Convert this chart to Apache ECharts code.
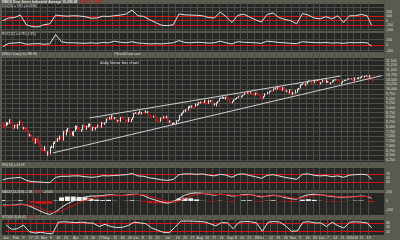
<!DOCTYPE html>
<html><head><meta charset="utf-8">
<script src="https://cdn.jsdelivr.net/npm/echarts@6.0.0/dist/echarts.min.js"></script>
<style>html,body{margin:0;padding:0;background:#5b5a4f;}#c{width:400px;height:240px;}</style>
</head><body><div id="c"></div>
<script>
// ---- daily bars ($INDU, 22 Jan 2009 .. 21 Jan 2010) ----
const highs = [
8250,8200,8250,8250,8400,8370,8250,
8010,8110,8180,8150,8320,8330,8270,8000,7940,7960,7840,7640,7600,7480,7420,7380,7440,7470,7200,
7060,6880,7000,6870,6710,6710,6930,7020,7170,7240,7390,7400,7540,7530,7470,7780,7770,7860,7940,7900,7760,7750,
7780,8080,8030,8020,7970,7880,8090,8100,8060,8050,8170,8180,8130,7990,8080,7980,8110,8080,8050,8260,8300,
8230,8430,8440,8530,8580,8610,8570,8520,8460,8380,8360,8510,8540,8580,8420,8340,8490,8480,8420,8510,
8740,8770,8740,8760,8860,8780,8820,8830,8880,8810,8790,8640,8560,8590,8600,8540,8380,8420,8490,8480,8560,8560,
8600,8500,8330,8330,8210,8240,8220,8340,8370,8620,8720,8760,8860,8920,8930,9090,9100,9120,9110,9090,9250,9230,
9300,9330,9330,9350,9440,9380,9340,9430,9420,9400,9320,9240,9290,9360,9510,9560,9620,9570,9580,9630,9540,
9540,9330,9350,9450,9510,9560,9630,9650,9630,9690,9800,9830,9830,9800,9860,9910,9780,9730,9800,9830,9790,
9710,9530,9620,9770,9740,9860,9870,9920,9880,10020,10070,10060,10100,10120,10120,10100,10110,10080,9940,9880,9970,9960,
9860,9790,9950,10010,10050,10230,10260,10310,10300,10290,10430,10440,10440,10420,10340,10500,10460,10480,10460,10360,
10500,10510,10520,10520,10420,10390,10350,10460,10500,10520,10510,10520,10440,10340,10440,10480,10490,10520,10580,10580,10560,10550,
10600,10590,10600,10620,10630,10680,10660,10690,10720,10710,10730,10720,10610];
const lows = [
7950,7910,8030,8100,8180,8120,7950,
7850,7910,7980,7880,8080,8180,7840,7870,7700,7830,7530,7490,7440,7250,7100,7110,7150,7170,7030,
6750,6700,6730,6580,6470,6520,6550,6890,6860,7100,7200,7200,7300,7370,7250,7280,7640,7550,7750,7740,7470,7540,
7500,7770,7870,7850,7770,7740,7840,7950,7880,7840,7970,8010,7830,7780,7860,7820,7950,7970,7900,7960,8140,
8110,8210,8350,8390,8350,8400,8380,8400,8270,8270,8230,8270,8430,8390,8220,8250,8260,8290,8260,8380,
8500,8690,8620,8650,8710,8660,8720,8660,8740,8730,8600,8500,8440,8490,8520,8320,8290,8290,8270,8400,8440,8400,
8450,8270,8210,8150,8090,8150,8090,8130,8280,8360,8580,8660,8740,8790,8820,8870,8990,9010,8990,8990,9070,9120,
9170,9240,9200,9210,9260,9290,9200,9220,9320,9250,9120,9130,9080,9250,9350,9490,9500,9480,9440,9500,9450,
9290,9250,9250,9330,9440,9460,9530,9580,9550,9590,9680,9750,9760,9720,9770,9740,9670,9640,9670,9730,9640,
9500,9430,9490,9600,9690,9730,9770,9860,9820,9890,9970,9940,9980,9990,9930,9910,9920,9840,9830,9740,9770,9700,
9680,9680,9770,9800,9940,10030,10190,10230,10180,10180,10270,10360,10380,10260,10270,10320,10380,10430,10230,10240,
10350,10430,10360,10320,10350,10240,10240,10340,10410,10460,10420,10430,10290,10240,10330,10410,10440,10470,10520,10540,10520,10420,
10430,10540,10540,10520,10550,10600,10570,10600,10660,10560,10600,10510,10380];
const closes = [
8123,8077,8116,8175,8375,8149,8001,
7936,8078,8000,8107,8281,8270,7888,7939,7932,7850,7552,7555,7466,7366,7114,7351,7270,7183,7063,
6763,6726,6876,6595,6627,6547,6926,6930,7170,7224,7217,7395,7486,7400,7278,7776,7660,7749,7924,7776,7522,7609,
7761,7978,8018,7975,7789,7837,8083,8057,7920,8029,8125,8131,7842,7969,7886,7957,8076,8025,7945,8185,8168,
8212,8426,8410,8512,8409,8575,8419,8469,8284,8331,8268,8504,8474,8422,8293,8277,8473,8300,8403,8500,
8721,8740,8675,8750,8763,8764,8763,8740,8770,8799,8612,8504,8497,8555,8539,8339,8323,8299,8472,8438,8529,8447,
8504,8280,8324,8163,8178,8183,8146,8332,8359,8616,8711,8743,8848,8916,8881,9069,9093,9108,9096,9070,9154,9171,
9286,9320,9280,9256,9370,9337,9241,9362,9398,9321,9135,9217,9279,9350,9505,9509,9539,9543,9580,9544,9496,
9310,9280,9344,9441,9497,9547,9627,9605,9626,9683,9792,9783,9820,9778,9829,9748,9707,9665,9789,9742,9712,
9509,9487,9599,9731,9725,9786,9865,9885,9871,10015,10062,9995,10092,10041,9949,10081,9972,9867,9882,9762,9962,9712,
9789,9771,9802,10005,10023,10226,10247,10291,10197,10270,10406,10437,10426,10332,10318,10450,10433,10464,10309,10345,
10471,10453,10366,10390,10390,10286,10337,10405,10471,10501,10452,10441,10309,10328,10414,10464,10467,10520,10547,10545,10548,10428,
10583,10572,10574,10607,10618,10664,10627,10681,10710,10610,10725,10603,10390];
const prevCloseBeforeFirst = 8228;

// ---- x axis (trading-day index) ----
const xLabels = [[0,'Jan'],[7,'Feb'],[12,'9'],[17,'17'],[21,'23'],[26,'Mar'],[31,'9'],[36,'16'],[41,'23'],
 [48,'Apr'],[55,'13'],[60,'20'],[65,'27'],[69,'May'],[75,'11'],[80,'18'],[85,'26'],[89,'Jun'],[94,'8'],[99,'15'],
 [104,'22'],[111,'Jul'],[118,'13'],[123,'20'],[128,'27'],[133,'Aug'],[138,'10'],[143,'17'],[148,'24'],[154,'Sep'],
 [158,'8'],[162,'14'],[167,'21'],[172,'28'],[175,'Oct'],[182,'12'],[187,'19'],[192,'26'],[197,'Nov'],[202,'9'],
 [207,'16'],[212,'23'],[217,'Dec'],[221,'7'],[226,'14'],[231,'21'],[235,'28'],[239,'2010'],[244,'11'],[249,'19']];
const weekStarts = [2,7,12,17,21,26,31,36,41,46,51,55,60,65,70,75,80,85,89,94,99,104,109,113,118,123,128,133,138,
 143,148,153,158,162,167,172,177,182,187,192,197,202,207,212,216,221,226,231,235,239,244,249];

// ---- indicator readings, one every 4 trading days ----
const sampleIdx = [0,4,8,12,16,20,24,28,32,36,40,44,48,52,56,60,64,68,72,76,80,84,88,92,96,100,104,108,112,116,120,
 124,128,132,136,140,144,148,152,156,160,164,168,172,176,180,184,188,192,196,200,204,208,212,216,220,224,228,232,236,
 240,244,248,251];
const cci = [0,60,70,125,-90,-130,-140,-90,-70,125,110,100,110,105,90,55,60,100,95,110,125,150,235,110,95,20,-40,-100,
 -110,-90,150,130,125,120,110,70,60,190,90,-40,120,145,80,20,-30,140,170,70,30,0,-70,160,125,60,40,90,40,110,-40,110,
 110,140,110,-95];
const roc = [-30,30,35,45,15,20,25,15,20,190,60,40,40,35,30,40,30,45,40,70,50,40,60,35,30,20,25,20,30,40,80,45,40,50,
 45,35,40,70,40,20,60,50,45,40,30,70,60,45,40,30,25,60,50,45,40,45,35,40,30,45,40,45,40,-20];
const rsi = [42,50,52,55,40,33,32,30,28,55,60,60,62,62,58,55,57,63,62,64,66,68,74,62,60,52,48,42,40,44,68,72,72,70,72,
 66,62,70,66,55,70,72,64,58,50,65,68,62,55,50,45,70,72,65,62,64,58,62,55,66,68,70,68,45];
const macd = [-90,-95,-90,-70,-85,-140,-200,-260,-300,-240,-140,-60,0,50,90,110,110,120,140,130,120,130,150,150,120,60,
 20,-20,-50,-20,60,130,170,180,170,150,130,150,140,110,120,140,150,120,90,110,130,110,80,50,40,100,140,150,140,120,100,
 90,80,90,100,110,100,60];
const signal = [-110,-100,-95,-85,-85,-100,-140,-190,-240,-250,-220,-160,-100,-40,10,50,80,100,115,125,125,125,135,145,
 140,110,70,30,-10,-25,5,60,110,145,165,160,145,145,145,130,120,125,135,130,110,105,115,115,100,75,55,70,100,125,135,
 130,115,100,90,88,92,100,102,85];
const hist = [20,5,5,15,0,-40,-60,-70,-60,10,80,100,100,90,80,60,30,20,25,5,-5,5,15,5,-20,-50,-50,-50,-40,5,55,70,60,
 35,5,-10,-15,5,-5,-20,0,15,15,-10,-20,5,15,-5,-20,-25,-15,30,40,25,5,-10,-15,-10,-10,2,8,10,-2,-25];
const stoK = [67,35,40,65,20,10,15,8,5,85,88,85,82,85,80,78,55,70,55,48,50,62,85,80,75,45,30,15,12,50,92,93,92,90,88,
 75,60,82,80,40,85,90,88,80,22,85,90,85,60,22,25,85,88,80,80,55,85,60,45,85,88,85,80,45];

// ---- hand-drawn trendlines: [trading-day index, price] ----
const trendUpper = [[59, 8471], [230, 10691]];
const trendLower = [[34, 6622], [258, 10707]];

const NCAT = 260;
const RED = '#d41414', WHITE = '#e2e2e2', GRID = '#4c4c48', PANEL = '#262624', LBL = '#dcdcdc';
const FONT = '"Liberation Sans"';
const cats = Array.from({length: NCAT}, (_, i) => String(i));
const labelMap = {}; xLabels.forEach(([i, t]) => labelMap[i] = t);
const weekSet = new Set(weekStarts);

const L = 2, R = 16;
const panels = [[4,31],[33,52],[58,162],[168,190],[193,215],[220,235]];
const grids = [
  {top: 2.7, height: 31.5},
  {top: 34, height: 22},
  {top: 55.97, height: 108.73},
  {top: 168.3, height: 20},
  {top: 183, height: 36},
  {top: 220, height: 15}
].map(g => Object.assign({left: L, right: R}, g));

function xAxis(gi, showLabels) {
  return {
    type: 'category', gridIndex: gi, data: cats, boundaryGap: true,
    axisLine: {show: false}, axisTick: {show: false},
    axisLabel: showLabels ? {
      show: true, interval: (i) => labelMap[i] !== undefined, hideOverlap: false,
      formatter: (v) => labelMap[Number(v)] || '', color: LBL, fontSize: 3.6,
      fontFamily: FONT, margin: 1.5
    } : {show: false},
    splitLine: {show: true, interval: (i) => weekSet.has(i), lineStyle: {color: GRID, width: 1}}
  };
}
function yAxis(gi, min, max, interval, fmt, split) {
  return {
    type: 'value', gridIndex: gi, position: 'right', min, max, interval, scale: true,
    axisLine: {show: false}, axisTick: {show: false},
    axisLabel: {show: true, showMinLabel: false, showMaxLabel: false, color: LBL, fontSize: 3.6,
      fontFamily: FONT, margin: 2, formatter: fmt},
    splitLine: {show: split, showMinLine: false, showMaxLine: false, lineStyle: {color: GRID, width: 1}}
  };
}
const fmtNum = v => v.toLocaleString('en-US');
const fmtIn = (lo, hi) => v => (v >= lo && v <= hi) ? String(v) : '';

const barsData = closes.map((c, i) => {
  const prev = i === 0 ? prevCloseBeforeFirst : closes[i - 1];
  return [i, highs[i], lows[i], c, c < prev ? 1 : 0];
});
const samp = arr => sampleIdx.map((ix, k) => [ix, arr[k]]);
const redLines = vals => ({silent: true, symbol: 'none', label: {show: false},
  lineStyle: {color: RED, width: 1, type: 'solid'}, data: vals.map(v => ({yAxis: v}))});
const lineS = (gi, data, color, extra) => Object.assign({
  type: 'line', xAxisIndex: gi, yAxisIndex: gi, data, showSymbol: false, symbol: 'none',
  lineStyle: {color, width: 1}, animation: false, z: 5
}, extra || {});

function rich(x, y, parts, size, weight) {
  return {type: 'text', left: x, top: y, z: 100, silent: true, style: {
    text: parts.map((p, k) => '{s' + k + '|' + p[0] + '}').join(' '),
    font: (weight || '') + ' ' + size + 'px ' + FONT,
    rich: Object.fromEntries(parts.map((p, k) => ['s' + k, {fill: p[1], fontSize: size, fontWeight: weight || 'normal', fontFamily: 'Liberation Sans'}]))
  }};
}

const option = {
  backgroundColor: '#5b5a4f',
  animation: false,
  graphic: {elements: [
    ...panels.map(([t, b]) => ({type: 'rect', left: L, top: t, z: -10, silent: true,
      shape: {width: 400 - L - R, height: b - t}, style: {fill: PANEL}})),
    rich(2, 0.3, [['$INDU Dow Jones Industrial Average', WHITE], ['10,389.88', WHITE], ['-213.27  -2.01%', RED]], 3.4, 'bold'),
    rich(2, 5, [['CCI(20) = 9.81 (-0.0158)', LBL]], 3.2),
    rich(2, 33, [['ROC(12) = 0.78 (-1.3%)', LBL]], 3.2),
    rich(2, 53, [['$INDU (Daily) 10,389.88', LBL]], 3.2),
    rich(114, 53, [['\u00a9StockCharts.com', LBL]], 3.2),
    rich(100, 61, [['daily linear bar chart', WHITE]], 4.3),
    rich(2, 163.5, [['RSI(14) = 44.99', LBL]], 3.2),
    rich(2, 190.5, [['MACD(12,26,9) -2.58,', LBL], ['20.83,', RED], ['-23.41', LBL]], 3.2),
    rich(2, 216, [['STO(14,3) 46.42,', LBL], ['58.12', RED]], 3.2)
  ]},
  grid: grids,
  xAxis: [xAxis(0,false), xAxis(1,false), xAxis(2,false), xAxis(3,false), xAxis(4,false), xAxis(5,true)],
  yAxis: [
    yAxis(0, -300, 400, 100, fmtIn(-200, 200), true),
    yAxis(1, -200, 200, 100, fmtIn(-100, 100), true),
    yAxis(2, 6000, 11750, 250, fmtNum, true),
    yAxis(3, 0, 100, 10, v => ([0, 30, 50, 70, 100].includes(v) ? String(v) : ''), false),
    yAxis(4, -400, 400, 200, fmtIn(-200, 200), false),
    yAxis(5, 0, 100, 10, v => ([20, 50, 80].includes(v) ? String(v) : ''), false)
  ],
  series: [
    lineS(0, samp(cci), WHITE, {markLine: redLines([100, 0, -100])}),
    lineS(1, samp(roc), WHITE, {markLine: redLines([0])}),
    {
      type: 'custom', xAxisIndex: 2, yAxisIndex: 2, data: barsData, z: 4,
      renderItem: (params, api) => {
        const ix = api.value(0);
        const hi = api.coord([ix, api.value(1)]);
        const lo = api.coord([ix, api.value(2)]);
        const cl = api.coord([ix, api.value(3)]);
        const col = api.value(4) ? RED : WHITE;
        const x = Math.round(hi[0]) + 0.5;
        return {type: 'group', children: [
          {type: 'line', shape: {x1: x, y1: hi[1], x2: x, y2: lo[1]}, style: {stroke: col, lineWidth: 1}},
          {type: 'line', shape: {x1: x, y1: cl[1], x2: x + 1, y2: cl[1]}, style: {stroke: col, lineWidth: 1}}
        ]};
      }
    },
    lineS(2, trendUpper, '#cfcfcf', {z: 6}),
    lineS(2, trendLower, '#cfcfcf', {z: 6}),
    lineS(3, samp(rsi), WHITE, {markLine: redLines([70, 30])}),
    {type: 'bar', xAxisIndex: 4, yAxisIndex: 4, barWidth: 5, z: 3,
     data: samp(hist).map(([ix, v]) => ({value: [ix, v], itemStyle: {color: v >= 0 ? '#f0f0f0' : RED}}))},
    lineS(4, samp(macd), WHITE),
    lineS(4, samp(signal), RED),
    lineS(5, samp(stoK), WHITE, {markLine: redLines([80, 20])})
  ]
};
const chart = echarts.init(document.getElementById('c'), null, {renderer: 'canvas'});
chart.setOption(option);
</script></body></html>
